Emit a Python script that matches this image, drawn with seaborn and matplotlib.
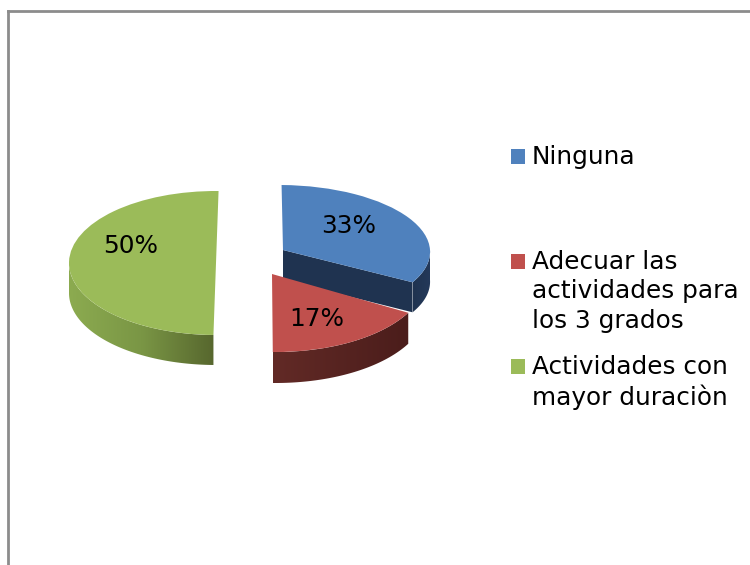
import numpy as np
import matplotlib
matplotlib.use("Agg")
import matplotlib.pyplot as plt
import seaborn as sns
from matplotlib.colors import LinearSegmentedColormap
from matplotlib.patches import Polygon
from matplotlib.transforms import Affine2D

# Datos
categorias = ["Ninguna\n \n ", "Adecuar las\nactividades para\nlos 3 grados", "Actividades con\nmayor duraciòn"]
porcentajes = [33, 17, 50]

# Colores de cada porcion: cara superior y degradado del lateral
colores = ["#4f81bd", "#c0504d", "#9bbb59"]
laterales = [["#1f3350", "#24395a"], ["#622a26", "#4b1d1b"], ["#8cab50", "#7a9645", "#57672e"]]

# Colocacion de cada porcion en pixeles: centro, radios, inclinacion y grosor
centros = [(283, 250), (272, 274), (216, 263)]
radios = [(147, 65), (155, 78), (147, 72)]
inclinacion = [-4, -3.5, 0]
grosor = [30, 31, 30]
texto_dx = [-10, -3, 3]
texto_dy = [-5, 4, -16]

sns.set_theme(style="white")
plt.rcParams["font.family"] = ["DejaVu Sans"]

fig = plt.figure(figsize=(7.5, 5.65), dpi=100)
ax = fig.add_axes([8 / 750, 0, 742 / 750, 554 / 565])

wedges, _, autotexts = ax.pie(
    porcentajes,
    colors=sns.color_palette(colores),
    startangle=89,
    counterclock=False,
    autopct="%.0f%%",
    pctdistance=0.6,
    wedgeprops={"linewidth": 0},
    textprops={"fontsize": 17.8, "color": "black"},
)

# pie() fija aspecto y limites, aqui trabajamos en pixeles
ax.set_aspect("auto")
ax.set_xlim(8, 750)
ax.set_ylim(565, 11)


def lateral(i, puntos):
    cmap = LinearSegmentedColormap.from_list("lat", laterales[i])
    grad = np.linspace(0, 1, 256).reshape(1, -1)
    x0, x1 = puntos[:, 0].min(), puntos[:, 0].max()
    y0, y1 = puntos[:, 1].min(), puntos[:, 1].max()
    im = ax.imshow(grad, cmap=cmap, extent=(x0, x1, y1, y0), aspect="auto", zorder=2 + i * 2)
    im.set_clip_path(Polygon(puntos, closed=True, transform=ax.transData))


for i, w in enumerate(wedges):
    cx, cy = centros[i]
    rx, ry = radios[i]
    prof = grosor[i]
    a_px = Affine2D.from_values(rx, 0, inclinacion[i], -ry, cx, cy)
    t1, t2 = w.theta1 % 360, w.theta2 % 360
    if t2 <= t1:
        t2 += 360

    # pared exterior: solo la parte del arco que mira hacia abajo
    for base in (0, 360):
        a, b = max(t1, 180 + base), min(t2, 360 + base)
        if b > a:
            ang = np.radians(np.linspace(a, b, 120))
            arco = a_px.transform(np.c_[np.cos(ang), np.sin(ang)])
            lateral(i, np.r_[arco, arco[::-1] + [0, prof]])

    # cara del corte de la porcion azul
    if i == 0:
        a = np.radians(t1)
        px, py = a_px.transform([[np.cos(a), np.sin(a)]])[0]
        cara = [(cx, cy), (px, py), (px, py + prof), (cx, cy + prof)]
        ax.add_patch(Polygon(cara, closed=True, fc=laterales[0][0], ec="none", zorder=2.5))

    w.set_transform(a_px + ax.transData)
    w.set_zorder(3 + i * 2)
    autotexts[i].set_transform(a_px + Affine2D().translate(texto_dx[i], texto_dy[i]) + ax.transData)
    autotexts[i].set_zorder(10)

# Marco gris solo arriba e izquierda, como en la captura
ax.set_frame_on(True)
ax.set_xticks([])
ax.set_yticks([])
for lado in ["right", "bottom"]:
    ax.spines[lado].set_visible(False)
for lado in ["left", "top"]:
    ax.spines[lado].set_visible(True)
    ax.spines[lado].set_color("#8c8c8c")
    ax.spines[lado].set_linewidth(2)

leg = ax.legend(
    wedges,
    categorias,
    loc="upper left",
    bbox_to_anchor=(511, 145),
    bbox_transform=ax.transData,
    frameon=False,
    fontsize=17.8,
    labelcolor="black",
    borderpad=0,
    borderaxespad=0,
    handlelength=0.56,
    handleheight=0.56,
    handletextpad=0.28,
    labelspacing=0.9,
)
for texto in leg.get_texts():
    texto.set_linespacing(1.28)
for fila in leg._legend_handle_box.get_children()[0].get_children():
    fila.align = "top"
for marca in leg.legend_handles:
    marca.set_y(marca.get_y() - 3)

fig.savefig("out.png", dpi=100, facecolor="white")
